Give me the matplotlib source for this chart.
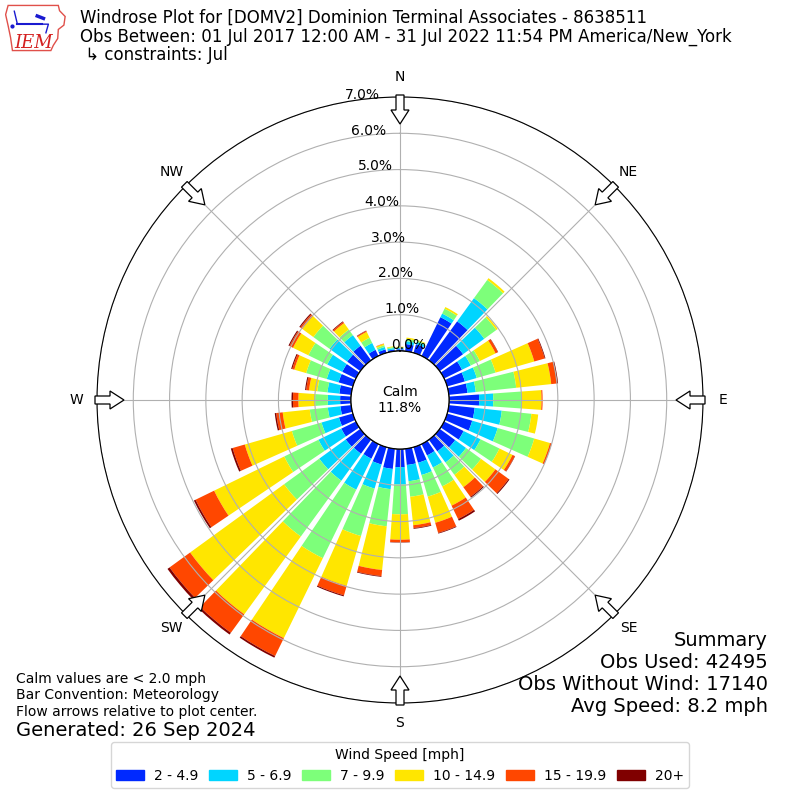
import numpy as np
import matplotlib.pyplot as plt
from matplotlib.patches import FancyArrow, Rectangle, Polygon

# Data (percent of observations, July obs at DOMV2)

directions = np.arange(0, 360, 10)  # bar centres, degrees from north

speed_labels = ["2 - 4.9", "5 - 6.9", "7 - 9.9", "10 - 14.9", "15 - 19.9", "20+"]

spd_2_5 = [0.05, 0.20, 0.25, 1.19, 1.33, 0.80, 0.55, 0.51, 0.52, 0.83, 0.72, 0.72,
           0.60, 0.53, 0.40, 0.35, 0.45, 0.45, 0.50, 0.56, 0.50, 0.45, 0.48, 0.50,
           0.45, 0.40, 0.30, 0.30, 0.33, 0.41, 0.42, 0.45, 0.50, 0.19, 0.10, 0.05]
spd_5_7 = [0.03, 0.08, 0.06, 0.11, 0.79, 0.72, 0.27, 0.34, 0.23, 0.39, 0.75, 0.73,
           0.52, 0.37, 0.38, 0.37, 0.35, 0.45, 0.48, 0.56, 0.69, 0.95, 0.92, 0.90,
           0.70, 0.50, 0.35, 0.34, 0.33, 0.34, 0.46, 0.60, 0.36, 0.21, 0.07, 0.04]
spd_7_10 = [0.02, 0.06, 0.04, 0.15, 0.62, 0.41, 0.28, 0.54, 1.12, 0.78, 0.82, 1.05,
            0.58, 0.51, 0.42, 0.58, 0.62, 0.43, 0.82, 1.03, 1.36, 2.10, 1.90, 1.20,
            1.05, 0.85, 0.50, 0.35, 0.28, 0.59, 0.58, 0.55, 0.19, 0.16, 0.05, 0.03]
spd_10_15 = [0.02, 0.04, 0.02, 0.05, 0.06, 0.05, 0.48, 1.11, 0.97, 0.55, 0.19, 0.45,
             0.40, 0.49, 0.42, 0.59, 0.75, 0.79, 0.70, 1.21, 1.43, 2.45, 2.65, 3.20,
             2.15, 1.35, 0.75, 0.46, 0.23, 0.34, 0.47, 0.38, 0.22, 0.18, 0.04, 0.02]
spd_15_20 = [0.00, 0.00, 0.00, 0.00, 0.00, 0.00, 0.07, 0.30, 0.16, 0.03, 0.00, 0.05,
             0.07, 0.45, 0.33, 0.41, 0.29, 0.08, 0.07, 0.17, 0.27, 0.55, 0.63, 0.70,
             0.57, 0.35, 0.18, 0.15, 0.08, 0.06, 0.11, 0.07, 0.04, 0.03, 0.01, 0.00]
spd_20_up = [0.00, 0.00, 0.00, 0.00, 0.00, 0.00, 0.01, 0.02, 0.03, 0.00, 0.00, 0.00,
             0.01, 0.03, 0.03, 0.05, 0.02, 0.02, 0.01, 0.02, 0.03, 0.05, 0.06, 0.07,
             0.05, 0.05, 0.04, 0.04, 0.03, 0.03, 0.03, 0.03, 0.02, 0.01, 0.00, 0.00]

calm_pct = 11.8
rings = [0, 1, 2, 3, 4, 5, 6, 7]
compass = ["N", "NE", "E", "SE", "S", "SW", "W", "NW"]

title_lines = [
    "Windrose Plot for [DOMV2] Dominion Terminal Associates - 8638511",
    "Obs Between: 01 Jul 2017 12:00 AM - 31 Jul 2022 11:54 PM America/New_York",
    " \u21b3 constraints: Jul",
]
notes = ["Calm values are < 2.0 mph", "Bar Convention: Meteorology",
         "Flow arrows relative to plot center."]
summary = ["Summary", "Obs Used: 42495", "Obs Without Wind: 17140",
           "Avg Speed: 8.2 mph"]

series = [spd_2_5, spd_5_7, spd_7_10, spd_10_15, spd_15_20, spd_20_up]
colors = plt.cm.jet(np.linspace(0, 1, 7))[1:]

# Figure

fig = plt.figure(figsize=(8, 8), dpi=100)
ax = fig.add_axes([0.12125, 0.12125, 0.7575, 0.7575], projection="polar")
ax.set_theta_zero_location("N")
ax.set_theta_direction(-1)
ax.set_ylim(0, 7)
ax.set_rorigin(-1.35)

theta = np.deg2rad(directions)
bottom = np.zeros(len(directions))
handles = []
for vals, col, lab in zip(series, colors, speed_labels):
    vals = np.array(vals)
    ax.bar(theta, vals, width=np.deg2rad(8), bottom=bottom, color=col,
           linewidth=0)
    bottom += vals
    handles.append(Rectangle((0, 0), 1, 1, color=col, label=lab))

# calm circle
circ = np.linspace(0, 2 * np.pi, 361)
ax.plot(circ, np.zeros_like(circ), color="black", lw=1)
ax.text(0.5, 0.5, "Calm\n%.1f%%" % calm_pct, transform=ax.transAxes,
        ha="center", va="center", fontsize=10)

ax.set_yticks(rings)
ax.set_yticklabels(["%.1f%%" % r for r in rings], fontsize=10)
ax.set_rlabel_position(-10.5)
ax.set_xticks(np.deg2rad(np.arange(0, 360, 45)))
ax.set_xticklabels(compass, fontsize=10)
ax.tick_params(axis="x", pad=4)

# flow arrows on the rim, pointing at the centre
for ang in np.deg2rad(np.arange(0, 360, 45)):
    ux, uy = np.sin(ang), np.cos(ang)
    r0, r1 = 305 / 800, 276 / 800
    arr = FancyArrow(0.5 + r0 * ux, 0.5 + r0 * uy, (r1 - r0) * ux, (r1 - r0) * uy,
                     width=8 / 800, head_width=18 / 800, head_length=14 / 800,
                     length_includes_head=True, fc="white", ec="black", lw=0.9,
                     transform=fig.transFigure, zorder=5)
    fig.add_artist(arr)

# header text
for i, line in enumerate(title_lines):
    fig.text(80 / 800, 1 - (18 + 18.5 * i) / 800, line, fontsize=12, va="center")

# IEM logo (rough)
lax = fig.add_axes([5 / 800, 1 - 52 / 800, 62 / 800, 48 / 800])
lax.set_xlim(0, 1)
lax.set_ylim(0, 1)
lax.axis("off")
iowa = [(0.05, 0.97), (0.86, 0.97), (0.88, 0.86), (0.97, 0.74), (0.95, 0.56),
        (0.86, 0.47), (0.85, 0.28), (0.78, 0.14), (0.74, 0.03), (0.12, 0.03),
        (0.09, 0.30), (0.05, 0.55), (0.01, 0.78)]
lax.add_patch(Polygon(iowa, closed=True, fill=False, ec="#e0504a", lw=1))
lax.plot([0.2, 0.6], [0.58, 0.58], color="#1a1ad0", lw=1.5)
lax.plot([0.2, 0.15], [0.58, 0.85], color="#1a1ad0", lw=1)
lax.plot([0.6, 0.7, 0.66], [0.58, 0.58, 0.4], color="#1a1ad0", lw=1)
lax.plot([0.52, 0.62], [0.75, 0.7], color="#1a1ad0", lw=2.5)
lax.plot(0.12, 0.55, "o", color="#1a1ad0", ms=2)
lax.text(0.15, 0.08, "IEM", color="#d42020", fontsize=13, family="serif",
         style="italic")

# bottom notes
for i, line in enumerate(notes):
    fig.text(16 / 800, 1 - (679 + 16.5 * i) / 800, line, fontsize=10, va="center")
fig.text(16 / 800, 1 - 730 / 800, "Generated: 26 Sep 2024", fontsize=14,
         va="center")
for i, line in enumerate(summary):
    fig.text(768 / 800, 1 - (640 + 22 * i) / 800, line, fontsize=14,
             ha="right", va="center")

fig.legend(handles=handles, loc="lower center", bbox_to_anchor=(0.5, 0.006),
           ncol=6, fontsize=10, title="Wind Speed [mph]", title_fontsize=10,
           columnspacing=0.8, handletextpad=0.7)

fig.savefig("out.png", dpi=100)
